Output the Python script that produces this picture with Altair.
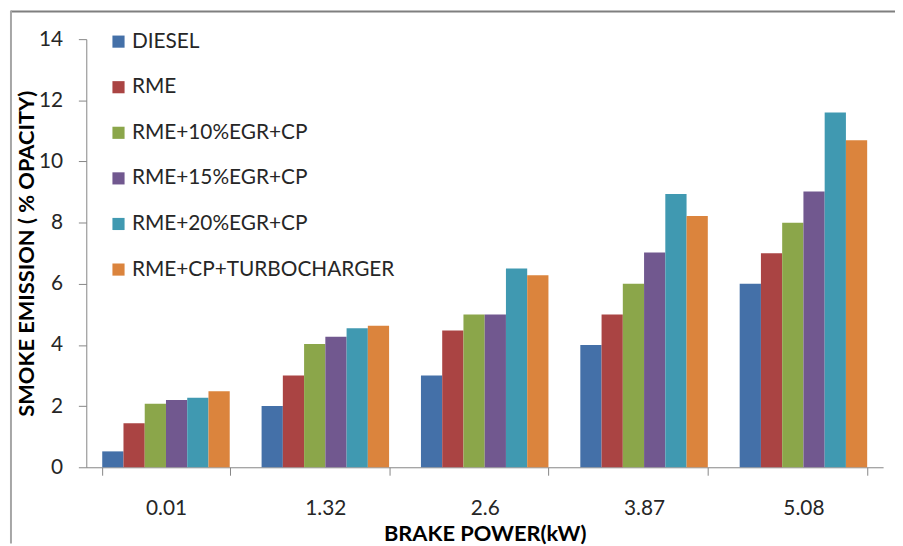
import altair as alt
import pandas as pd

power = ["0.01", "1.32", "2.6", "3.87", "5.08"]
series = ["DIESEL", "RME", "RME+10%EGR+CP", "RME+15%EGR+CP", "RME+20%EGR+CP", "RME+CP+TURBOCHARGER"]
diesel = [0.52, 2.0, 3.0, 4.0, 6.0]
rme = [1.44, 3.0, 4.47, 5.0, 7.0]
egr10 = [2.08, 4.03, 5.0, 6.0, 8.0]
egr15 = [2.2, 4.27, 5.0, 7.02, 9.02]
egr20 = [2.27, 4.55, 6.5, 8.94, 11.6]
turbo = [2.49, 4.63, 6.28, 8.22, 10.69]
colors = ["#4470A8", "#AA4443", "#8BA64A", "#71588F", "#4099B1", "#DB843D"]

values = [diesel, rme, egr10, egr15, egr20, turbo]
rows = []
for s, vals in zip(series, values):
    for p, v in zip(power, vals):
        rows.append({"power": p, "series": s, "value": v})
df = pd.DataFrame(rows)

FONT = "Lato"

bars = alt.Chart(df).mark_bar().encode(
    x=alt.X("power:N", sort=power,
            scale=alt.Scale(paddingInner=0.2, paddingOuter=0.1),
            axis=alt.Axis(title="BRAKE POWER(kW)", labelAngle=0, tickBand="extent",
                          tickSize=8, labelPadding=23, titlePadding=5)),
    xOffset=alt.XOffset("series:N", sort=series,
                        scale=alt.Scale(paddingInner=0, paddingOuter=0)),
    y=alt.Y("value:Q", scale=alt.Scale(domain=[0, 14], nice=False),
            axis=alt.Axis(title="SMOKE EMISSION ( % OPACITY)", values=[0, 2, 4, 6, 8, 10, 12, 14],
                          grid=False, tickSize=8, labelPadding=16, titlePadding=0)),
    color=alt.Color("series:N", sort=series,
                    scale=alt.Scale(domain=series, range=colors),
                    legend=alt.Legend(title=None, orient="none", legendX=22, legendY=-8,
                                      symbolType="square", symbolSize=150, symbolStrokeWidth=0,
                                      labelFontSize=21, labelFont=FONT, labelColor="#262626",
                                      rowPadding=24, labelOffset=3, labelLimit=400)),
)

frame_df = pd.DataFrame({"k": [0]})
top_line = alt.Chart(frame_df).mark_rule(color="#7f7f7f", strokeWidth=2).encode(
    x=alt.value(-76), x2=alt.value(816), y=alt.value(-28))
left_line = alt.Chart(frame_df).mark_rule(color="#a6a6a6", strokeWidth=2).encode(
    x=alt.value(-76), y=alt.value(-29), y2=alt.value(509))

chart = alt.layer(bars, top_line, left_line).properties(
    width=804, height=432,
    autosize=alt.AutoSizeParams(type="none"),
    padding={"left": 79, "top": 29, "right": 12, "bottom": 77},
).configure_view(stroke=None).configure_axis(
    domainColor="#868686", tickColor="#868686",
    labelFont=FONT, labelFontSize=21, labelColor="#262626",
    titleFont=FONT, titleFontSize=22, titleFontWeight="bold", titleColor="#000000",
)

chart.save("out.html", embed_options={"renderer": "svg", "actions": False})
